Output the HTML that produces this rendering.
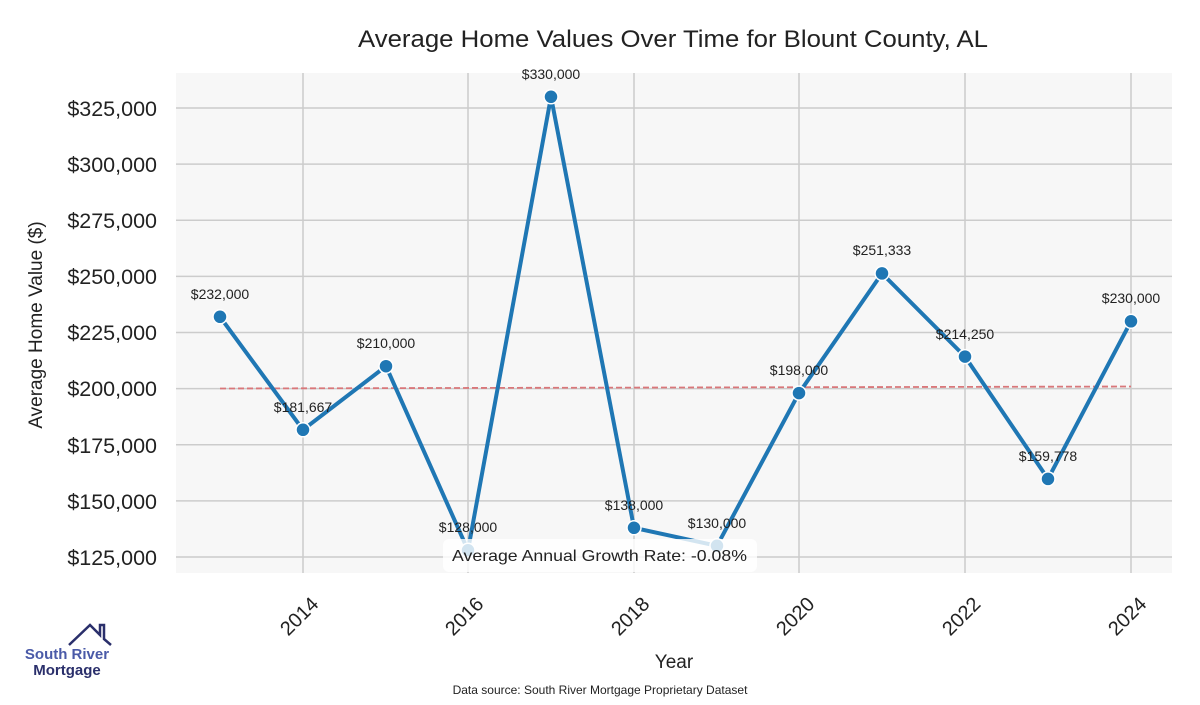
<!DOCTYPE html>
<html><head><meta charset="utf-8"><style>
body{margin:0;background:#fff;}
svg text{font-family:"Liberation Sans",sans-serif;}
</style></head><body>
<svg width="1200" height="700" xmlns="http://www.w3.org/2000/svg">
<rect width="1200" height="700" fill="#fff"/>
<rect x="176" y="73" width="996" height="500" fill="#f7f7f7"/>
<g stroke="#cccccc" stroke-width="1.5">
<line x1="176" x2="1172" y1="108" y2="108"/>
<line x1="176" x2="1172" y1="164.1" y2="164.1"/>
<line x1="176" x2="1172" y1="220.3" y2="220.3"/>
<line x1="176" x2="1172" y1="276.4" y2="276.4"/>
<line x1="176" x2="1172" y1="332.5" y2="332.5"/>
<line x1="176" x2="1172" y1="388.6" y2="388.6"/>
<line x1="176" x2="1172" y1="444.8" y2="444.8"/>
<line x1="176" x2="1172" y1="500.9" y2="500.9"/>
<line x1="176" x2="1172" y1="557" y2="557"/>
<line x1="303" x2="303" y1="73" y2="573"/>
<line x1="468" x2="468" y1="73" y2="573"/>
<line x1="634" x2="634" y1="73" y2="573"/>
<line x1="799" x2="799" y1="73" y2="573"/>
<line x1="965" x2="965" y1="73" y2="573"/>
<line x1="1131" x2="1131" y1="73" y2="573"/>
</g>
<text x="358" y="47" font-size="24" textLength="630" lengthAdjust="spacingAndGlyphs" fill="#222">Average Home Values Over Time for Blount County, AL</text>
<g font-size="21.5" fill="#222" text-anchor="end">
<text x="157" y="116">$325,000</text>
<text x="157" y="172">$300,000</text>
<text x="157" y="228">$275,000</text>
<text x="157" y="284">$250,000</text>
<text x="157" y="340">$225,000</text>
<text x="157" y="396">$200,000</text>
<text x="157" y="453">$175,000</text>
<text x="157" y="509">$150,000</text>
<text x="157" y="565">$125,000</text>
</g>
<g font-size="20" fill="#222" text-anchor="middle">
<text transform="translate(304,621) rotate(-45)">2014</text>
<text transform="translate(469,621) rotate(-45)">2016</text>
<text transform="translate(635,621) rotate(-45)">2018</text>
<text transform="translate(800,621) rotate(-45)">2020</text>
<text transform="translate(966,621) rotate(-45)">2022</text>
<text transform="translate(1132,621) rotate(-45)">2024</text>
</g>
<text x="674" y="668" font-size="19" text-anchor="middle" fill="#222">Year</text>
<text transform="translate(42,325) rotate(-90)" font-size="19" text-anchor="middle" fill="#222">Average Home Value ($)</text>
<line x1="220" y1="388.5" x2="1131" y2="386.5" stroke="#d9777a" stroke-width="1.8" stroke-dasharray="6,3"/>
<polyline fill="none" stroke="#1f77b4" stroke-width="4" stroke-linejoin="round" points="220,316.8 303,429.8 386,366.2 468,550.3 551,96.8 634,527.8 717,545.8 799,393.1 882,273.4 965,356.6 1048,478.9 1131,321.3"/>
<g fill="#1f77b4" stroke="#fff" stroke-width="1.5">
<circle cx="220" cy="316.8" r="7"/><circle cx="303" cy="429.8" r="7"/><circle cx="386" cy="366.2" r="7"/><circle cx="468" cy="550.3" r="7"/><circle cx="551" cy="96.8" r="7"/><circle cx="634" cy="527.8" r="7"/><circle cx="717" cy="545.8" r="7"/><circle cx="799" cy="393.1" r="7"/><circle cx="882" cy="273.4" r="7"/><circle cx="965" cy="356.6" r="7"/><circle cx="1048" cy="478.9" r="7"/><circle cx="1131" cy="321.3" r="7"/>
</g>
<g font-size="14" fill="#222" text-anchor="middle">
<text x="220" y="299">$232,000</text>
<text x="303" y="412">$181,667</text>
<text x="386" y="348">$210,000</text>
<text x="468" y="532">$128,000</text>
<text x="551" y="79">$330,000</text>
<text x="634" y="510">$138,000</text>
<text x="717" y="528">$130,000</text>
<text x="799" y="375">$198,000</text>
<text x="882" y="255">$251,333</text>
<text x="965" y="339">$214,250</text>
<text x="1048" y="461">$159,778</text>
<text x="1131" y="303">$230,000</text>
</g>
<rect x="443" y="539" width="314" height="33" rx="6" fill="#fff" fill-opacity="0.8"/>
<text x="452" y="561" font-size="16" textLength="295" lengthAdjust="spacingAndGlyphs" fill="#222">Average Annual Growth Rate: -0.08%</text>
<text x="600" y="694" font-size="12" text-anchor="middle" fill="#222">Data source: South River Mortgage Proprietary Dataset</text>
<polyline points="69,645 90,625 100,635 100,625 104,625 104,639 111,645" fill="none" stroke="#2a2f6b" stroke-width="2.5"/>
<text x="67" y="659" font-size="15" font-weight="bold" text-anchor="middle" fill="#4a5aa8">South River</text>
<text x="67" y="675" font-size="15" font-weight="bold" text-anchor="middle" fill="#2a2f6b">Mortgage</text>
</svg>
</body></html>
